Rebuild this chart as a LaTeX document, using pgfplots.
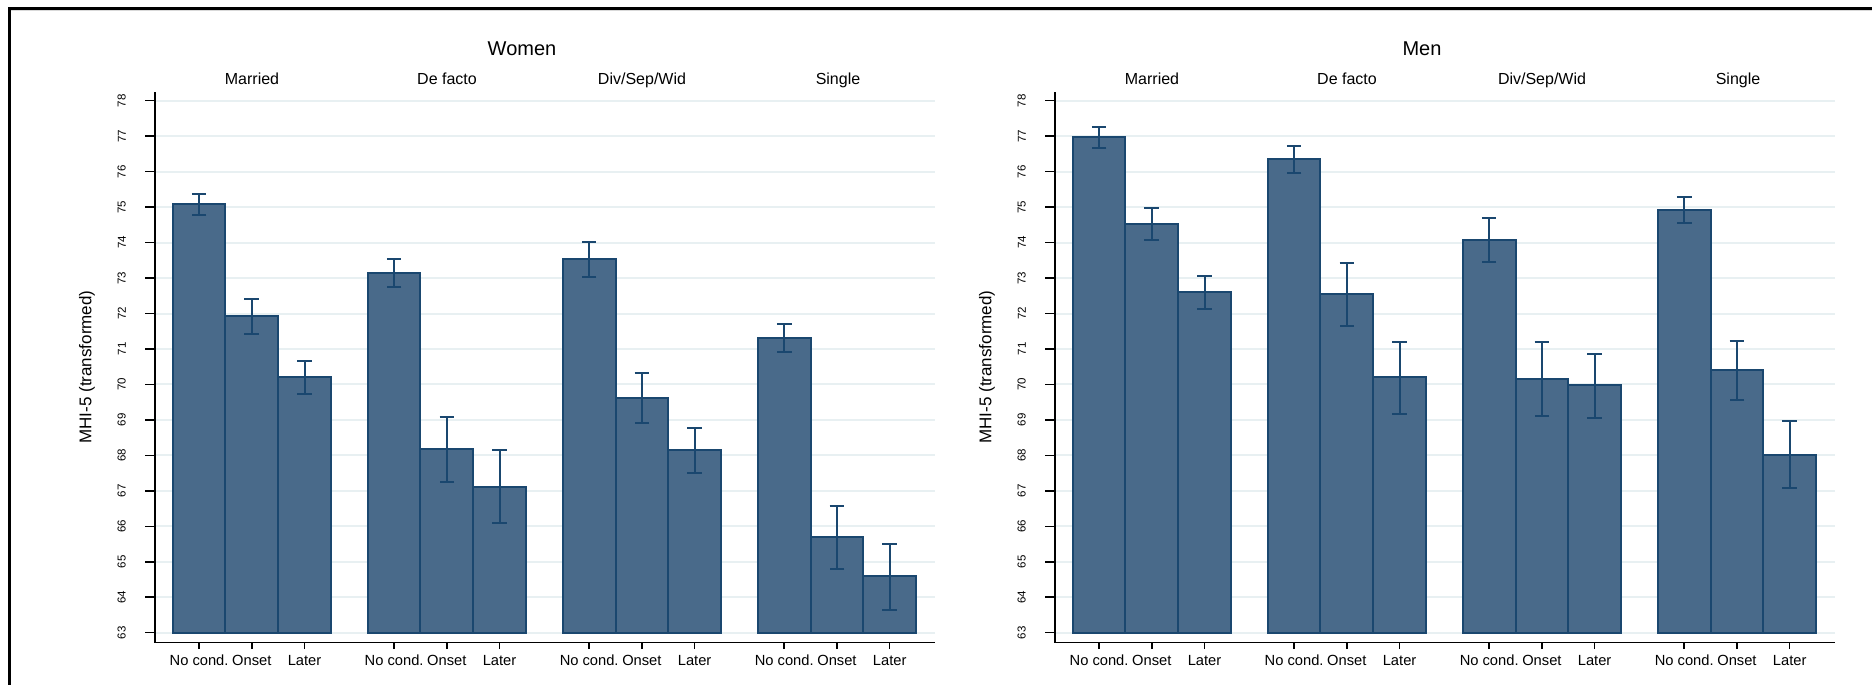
\documentclass[border=0pt]{standalone}
\usepackage{fontspec}
\setmainfont{Liberation Sans}
\usepackage{pgfplots}
\pgfplotsset{compat=1.18}
\usepackage{pgfplotstable}

\definecolor{barfill}{RGB}{73,106,138}
\definecolor{navy}{RGB}{26,71,111}
\definecolor{gridc}{RGB}{232,240,242}

\pgfplotstableread{
x    y     ep   em
0    75.08 0.30 0.31
1    71.94 0.48 0.51
2    70.20 0.46 0.46
3.7  73.13 0.40 0.39
4.7  68.17 0.91 0.92
5.7  67.12 1.02 1.02
7.4  73.53 0.50 0.51
8.4  69.63 0.70 0.73
9.4  68.14 0.62 0.64
11.1 71.31 0.38 0.40
12.1 65.69 0.87 0.89
13.1 64.59 0.91 0.94
}\women

\pgfplotstableread{
x    y     ep   em
0    76.97 0.30 0.31
1    74.52 0.45 0.46
2    72.60 0.45 0.47
3.7  76.35 0.38 0.38
4.7  72.54 0.88 0.89
5.7  70.20 1.00 1.02
7.4  74.06 0.63 0.62
8.4  70.16 1.03 1.05
9.4  69.97 0.88 0.92
11.1 74.92 0.37 0.38
12.1 70.40 0.82 0.85
13.1 68.02 0.96 0.94
}\men

\pgfplotsset{
  panel/.style={
    scale only axis, width=780pt, height=551pt,
    xmin=-0.836, xmax=13.96, ymin=62.723, ymax=78.26,
    enlargelimits=false,
    y coord trafo/.code={\pgfmathparse{##1-63}},
    y coord inv trafo/.code={\pgfmathparse{##1+63}},
    axis x line*=bottom, axis y line*=left,
    axis line style={-, line width=1.5pt, black},
    tick align=outside, major tick length=10pt,
    tick style={line width=1.5pt, black},
    xtick style={/pgfplots/major tick length=6.5pt},
    xtick={0,1,2,3.7,4.7,5.7,7.4,8.4,9.4,11.1,12.1,13.1},
    xticklabels={No cond.,Onset,Later,No cond.,Onset,Later,No cond.,Onset,Later,No cond.,Onset,Later},
    ytick={63,64,65,66,67,68,69,70,71,72,73,74,75,76,77,78},
    yticklabels={63,64,65,66,67,68,69,70,71,72,73,74,75,76,77,78},
    /pgf/number format/assume math mode=true,
    xticklabel style={font=\fontsize{14.7}{16}\selectfont, anchor=base, inner sep=0pt, yshift=-13pt},
    yticklabel style={font=\fontsize{11.5}{13}\selectfont, xshift=-8pt, rotate=90, anchor=south, inner xsep=0pt, inner ysep=11pt},
    ymajorgrids, grid style={gridc, line width=2pt},
    ylabel={MHI-5 (transformed)},
    ylabel style={at={(axis description cs:-0.0872,0.5)}, anchor=center, font=\fontsize{17}{20}\selectfont},
    clip=false,
  },
  bars/.style={ybar, bar width=1, bar shift=0pt, fill=barfill, draw=navy, line width=2pt,
    error bars/.cd, y dir=both, y explicit,
    error bar style={line width=2pt, draw=navy},
    error mark options={rotate=90, mark size=7.3pt, line width=2pt, draw=navy}},
}

\begin{document}
\begin{tikzpicture}[x=1pt,y=1pt]
\useasboundingbox (0,0) rectangle (1872,-685);
\draw[line width=1pt, black!15] (11,-11) -- (1872,-11);
\draw[line width=2.6pt, black] (9.5,-685) -- (9.5,-8.7) -- (1872,-8.7);

\begin{axis}[panel, at={(155pt,-642.5pt)}, anchor=south west]
\addplot[bars] table[x=x, y=y, y error plus=ep, y error minus=em] {\women};
\end{axis}

\begin{axis}[panel, at={(1055pt,-642.5pt)}, anchor=south west]
\addplot[bars] table[x=x, y=y, y error plus=ep, y error minus=em] {\men};
\end{axis}

\node[anchor=base, font=\fontsize{20}{24}\selectfont] at (522,-55.2) {Women};
\node[anchor=base, font=\fontsize{20}{24}\selectfont] at (1422,-55.2) {Men};
\foreach \cx/\t in {252/{Married}, 447/{De facto}, 642/{Div/Sep/Wid}, 838/{Single}}{
  \node[anchor=base, font=\fontsize{16}{19}\selectfont] at (\cx,-84.7) {\t};
  \node[anchor=base, font=\fontsize{16}{19}\selectfont] at (\cx+900,-84.7) {\t};
}
\end{tikzpicture}
\end{document}
